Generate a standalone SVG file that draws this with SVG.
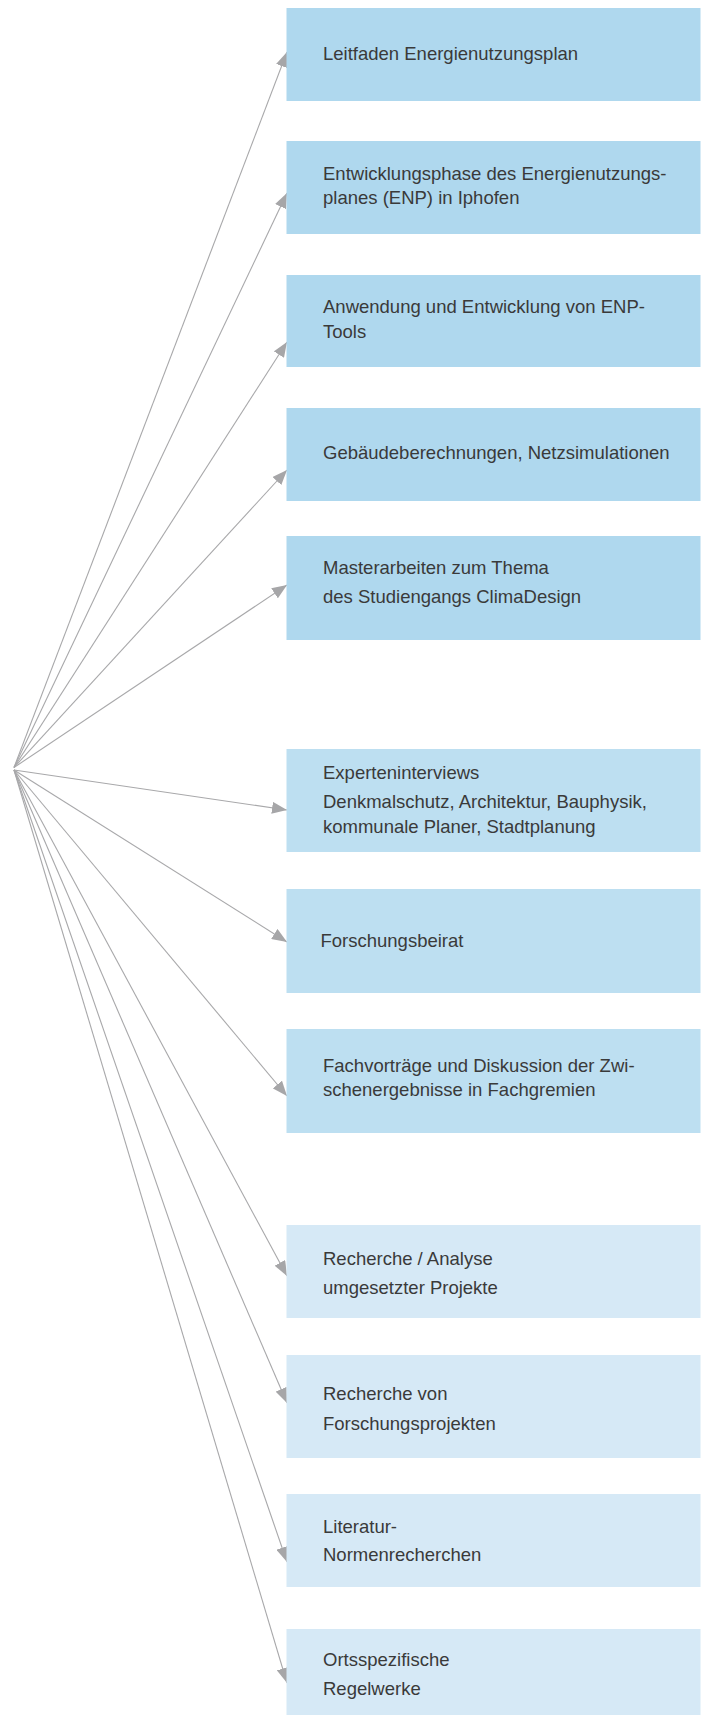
<svg xmlns="http://www.w3.org/2000/svg" width="707" height="1715" viewBox="0 0 707 1715">
<style>
.b1{fill:#AFD8EE}
.b2{fill:#BDDFF1}
.b3{fill:#D6E9F6}
text{font-family:"Liberation Sans",Arial,sans-serif;font-size:18.5px;fill:#3a3a3a}
.c{stroke:#A8A8AA;stroke-width:1.1;fill:none;marker-end:url(#ah)}
</style>
<defs>
<marker id="ah" markerUnits="userSpaceOnUse" markerWidth="16" markerHeight="12" refX="15" refY="6" orient="auto">
<path d="M0,0 L15,6 L0,12 z" fill="#A6A6A8"/>
</marker>
</defs>
<rect width="707" height="1715" fill="#ffffff"/>
<g id="connectors">
<line class="c" x1="14" y1="767.5" x2="287" y2="52"/>
<line class="c" x1="14" y1="767.5" x2="287" y2="193"/>
<line class="c" x1="14" y1="767.5" x2="287" y2="342"/>
<line class="c" x1="14" y1="767.5" x2="287" y2="470"/>
<line class="c" x1="14" y1="767.5" x2="287" y2="585"/>
<line class="c" x1="14" y1="770" x2="287" y2="810"/>
<line class="c" x1="14" y1="770" x2="287" y2="942"/>
<line class="c" x1="14" y1="770" x2="287" y2="1096"/>
<line class="c" x1="14" y1="770" x2="287" y2="1276"/>
<line class="c" x1="14" y1="770" x2="287" y2="1403"/>
<line class="c" x1="14" y1="770" x2="287" y2="1562"/>
<line class="c" x1="14" y1="770" x2="287" y2="1683"/>
</g>
<g id="n1"><rect class="b1" x="286.5" y="8" width="414" height="93"/><text x="323" y="60">Leitfaden Energienutzungsplan</text></g>
<g id="n2"><rect class="b1" x="286.5" y="141" width="414" height="93"/><text x="323" y="179.5">Entwicklungsphase des Energienutzungs-</text><text x="323" y="204">planes (ENP) in Iphofen</text></g>
<g id="n3"><rect class="b1" x="286.5" y="275" width="414" height="92"/><text x="323" y="312.5">Anwendung und Entwicklung von ENP-</text><text x="323" y="337.5">Tools</text></g>
<g id="n4"><rect class="b1" x="286.5" y="408" width="414" height="93"/><text x="323" y="458.5">Gebäudeberechnungen, Netzsimulationen</text></g>
<g id="n5"><rect class="b1" x="286.5" y="536" width="414" height="104"/><text x="323" y="573.5">Masterarbeiten zum Thema</text><text x="323" y="602.5">des Studiengangs ClimaDesign</text></g>
<g id="n6"><rect class="b2" x="286.5" y="749" width="414" height="103"/><text x="323" y="778.5">Experteninterviews</text><text x="323" y="807.5">Denkmalschutz, Architektur, Bauphysik,</text><text x="323" y="832.5">kommunale Planer, Stadtplanung</text></g>
<g id="n7"><rect class="b2" x="286.5" y="889" width="414" height="104"/><text x="320.5" y="946.5">Forschungsbeirat</text></g>
<g id="n8"><rect class="b2" x="286.5" y="1029" width="414" height="104"/><text x="323" y="1071.5">Fachvorträge und Diskussion der Zwi-</text><text x="323" y="1096">schenergebnisse in Fachgremien</text></g>
<g id="n9"><rect class="b3" x="286.5" y="1225" width="414" height="93"/><text x="323" y="1264.5">Recherche / Analyse</text><text x="323" y="1293.5">umgesetzter Projekte</text></g>
<g id="n10"><rect class="b3" x="286.5" y="1355" width="414" height="103"/><text x="323" y="1400">Recherche von</text><text x="323" y="1429.5">Forschungsprojekten</text></g>
<g id="n11"><rect class="b3" x="286.5" y="1494" width="414" height="93"/><text x="323" y="1532.5">Literatur-</text><text x="323" y="1561">Normenrecherchen</text></g>
<g id="n12"><rect class="b3" x="286.5" y="1629" width="414" height="93"/><text x="323" y="1666">Ortsspezifische</text><text x="323" y="1695">Regelwerke</text></g>
</svg>
